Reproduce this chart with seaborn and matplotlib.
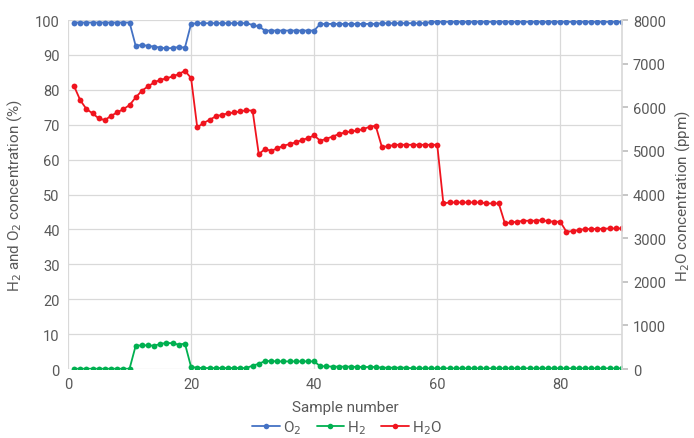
import numpy as np
import pandas as pd
import seaborn as sns
import matplotlib.pyplot as plt

# sample numbers 1..90
samples = list(range(1, 91))

# O2 concentration (%), left axis
o2 = ([99.3] * 10
      + [92.6, 92.9, 92.6, 92.4, 92.1, 91.9, 92.0, 92.3, 92.1]
      + [98.9] + [99.1] * 9
      + [98.6, 98.2] + [97.0] * 9
      + [98.9] * 10
      + [99.1] * 8 + [99.5] * 32)

# H2 concentration (%), left axis
h2 = ([0.1] * 10
      + [6.7, 6.8, 6.8, 6.7, 7.2, 7.5, 7.4, 7.0, 7.3]
      + [0.6, 0.4] + [0.3] * 8
      + [1.0, 1.5] + [2.3, 2.3] + [2.2] * 7
      + [0.8, 0.8, 0.7, 0.7, 0.7, 0.7, 0.6, 0.6, 0.6, 0.6]
      + [0.4] * 5 + [0.2] * 35)

# H2O concentration (ppm), right axis
h2o = [6480, 6160, 5960, 5860, 5745, 5707, 5806, 5883, 5959, 6051,
       6227, 6380, 6480, 6571, 6631, 6663, 6709, 6762, 6838, 6670,
       5540, 5638, 5714, 5791, 5829, 5860, 5883, 5906, 5936, 5921,
       4928, 5042, 5004, 5058, 5119, 5157, 5196, 5249, 5295, 5355,
       5233, 5280, 5330, 5386, 5424, 5447, 5470, 5500, 5554, 5577,
       5095, 5103, 5141, 5141, 5141, 5141, 5141, 5141, 5141, 5141,
       3797, 3820, 3820, 3820, 3820, 3820, 3820, 3797, 3797, 3797,
       3339, 3362, 3377, 3400, 3400, 3400, 3415, 3390, 3377, 3377,
       3148, 3163, 3186, 3209, 3209, 3215, 3215, 3224, 3224, 3224]

colors = {'O2': '#4472C4', 'H2': '#00B050', 'H2O': '#F0141E'}
grey = '#595959'

sns.set_theme(style='white')
plt.rcParams['font.family'] = ['Roboto', 'DejaVu Sans']

df = pd.DataFrame({'Sample': samples, 'O2': o2, 'H2': h2, 'H2O': h2o})

fig = plt.figure(figsize=(6.94, 4.39), dpi=100)
ax = fig.add_axes([0.098, 0.157, 0.798, 0.795])
ax2 = ax.twinx()

line_kw = dict(marker='o', markersize=4.2, markeredgewidth=0, linewidth=1.3)
sns.lineplot(data=df, x='Sample', y='O2', ax=ax, color=colors['O2'], **line_kw)
sns.lineplot(data=df, x='Sample', y='H2', ax=ax, color=colors['H2'], **line_kw)
sns.lineplot(data=df, x='Sample', y='H2O', ax=ax2, color=colors['H2O'], **line_kw)

ax.set_xlim(0, 90)
ax.set_ylim(0, 100)
ax2.set_ylim(0, 8000)
ax.set_xticks([0, 20, 40, 60, 80])
ax.set_yticks(np.arange(0, 101, 10))
ax2.set_yticks(np.arange(0, 8001, 1000))

ax.grid(True, color='#D9D9D9', linewidth=0.9)
ax.set_axisbelow(True)
for sp in ['top', 'left', 'bottom']:
    ax.spines[sp].set_visible(False)
    ax2.spines[sp].set_visible(False)
ax.spines['right'].set_visible(False)
ax2.spines['right'].set_color('#D9D9D9')

ax.tick_params(axis='both', length=0, labelsize=10.5, labelcolor=grey, pad=6)
ax2.tick_params(axis='y', length=4, color='#BFBFBF', labelsize=10.5,
                labelcolor=grey, pad=4)

ax.set_xlabel('Sample number', fontsize=11, color=grey, labelpad=6)
ax.set_ylabel(r'H$_2$ and O$_2$ concentration (%)', fontsize=11,
              color=grey, labelpad=8)
ax2.set_ylabel(r'H$_2$O concentration (ppm)', fontsize=11, color=grey,
               labelpad=5)

handles = [plt.Line2D([], [], color=colors[k], marker='o', markersize=4,
                      markeredgewidth=0, linewidth=1.3)
           for k in ['O2', 'H2', 'H2O']]
fig.legend(handles, [r'O$_2$', r'H$_2$', r'H$_2$O'], loc='center',
           bbox_to_anchor=(0.5, 0.025), ncol=3, frameon=False,
           fontsize=11, labelcolor=grey, handlelength=1.8,
           handletextpad=0.2, columnspacing=1.0)

fig.savefig('out.png', dpi=100)
